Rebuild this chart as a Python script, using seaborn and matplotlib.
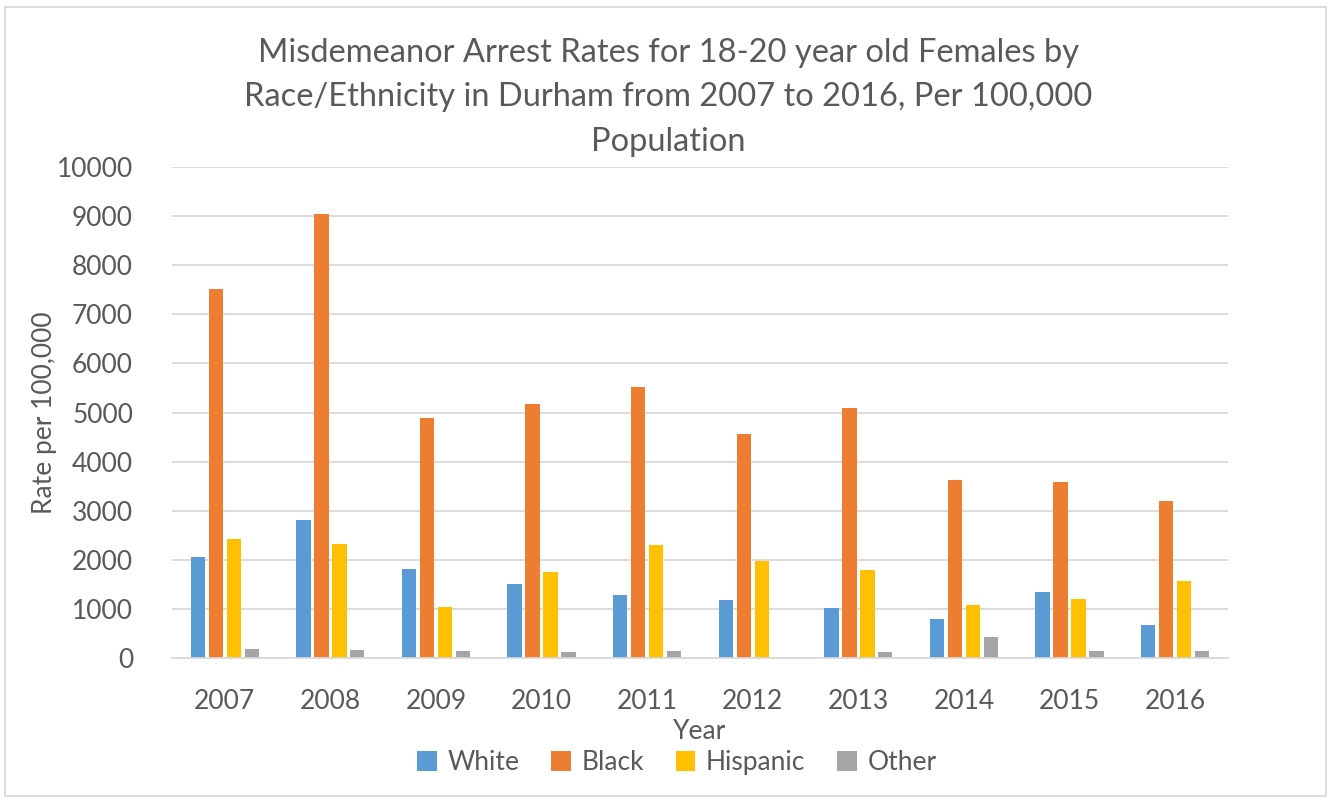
import pandas as pd
import matplotlib.pyplot as plt
import seaborn as sns
from matplotlib.patches import Rectangle

# Values (rate per 100,000)
years = ['2007', '2008', '2009', '2010', '2011', '2012', '2013', '2014', '2015', '2016']
white = [2060, 2820, 1806, 1513, 1290, 1185, 1018, 788, 1344, 672]
black = [7518, 9050, 4886, 5178, 5510, 4565, 5082, 3620, 3586, 3198]
hispanic = [2417, 2322, 1032, 1752, 2301, 1969, 1792, 1079, 1195, 1568]
other = [177, 163, 143, 122, 136, 0, 129, 428, 136, 143]

races = ['White', 'Black', 'Hispanic', 'Other']
colors = ['#5B9BD5', '#ED7D31', '#FFC000', '#A5A5A5']
text_color = '#595959'


def build_frame():
    rows = []
    for race, vals in zip(races, [white, black, hispanic, other]):
        for yr, v in zip(years, vals):
            rows.append({'Year': yr, 'Race': race, 'Rate': v})
    return pd.DataFrame(rows)


def plot_chart(df):
    sns.set_theme(style='white')
    plt.rcParams['font.family'] = ['Lato', 'DejaVu Sans']

    fig = plt.figure(figsize=(13.3, 7.98), dpi=100)
    ax = fig.add_axes([0.1293, 0.1754, 0.794, 0.6153])

    sns.barplot(data=df, x='Year', y='Rate', hue='Race', hue_order=races,
                palette=colors, width=0.68, gap=0.2, saturation=1,
                edgecolor='none', ax=ax, legend=True)

    ax.set_ylim(0, 10000)
    ax.set_yticks(range(0, 10001, 1000))
    ax.yaxis.grid(True, color='#D9D9D9', linewidth=1.3)
    ax.set_axisbelow(True)
    for side in ['top', 'right', 'left']:
        ax.spines[side].set_visible(False)
    ax.spines['bottom'].set_color('#D9D9D9')
    ax.spines['bottom'].set_linewidth(1.3)
    ax.tick_params(axis='y', length=0, pad=28, labelsize=19, labelcolor=text_color)
    ax.tick_params(axis='x', length=0, pad=22, labelsize=19, labelcolor=text_color)

    ax.set_ylabel('Rate per 100,000', fontsize=19, color=text_color, labelpad=0)
    ax.set_xlabel('Year', fontsize=19, color=text_color, labelpad=4)

    handles, labels = ax.get_legend_handles_labels()
    ax.legend(handles, labels, loc='center', bbox_to_anchor=(0.478, -0.213),
              ncol=4, frameon=False, fontsize=19, handlelength=0.75,
              handleheight=0.75, handletextpad=0.4, columnspacing=1.2,
              labelcolor=text_color)

    fig.text(0.5025, 0.878,
             'Misdemeanor Arrest Rates for 18-20 year old Females by\n'
             'Race/Ethnicity in Durham from 2007 to 2016, Per 100,000\n'
             'Population',
             ha='center', va='center', fontsize=23.5, color=text_color,
             linespacing=1.6)

    # outer chart border
    fig.patches.append(Rectangle((0.004, 0.003), 0.993, 0.988, transform=fig.transFigure,
                                 fill=False, edgecolor='#D9D9D9', linewidth=1.3))

    fig.savefig('out.png', dpi=100)


def main():
    df = build_frame()
    plot_chart(df)


if __name__ == "__main__":
    main()
